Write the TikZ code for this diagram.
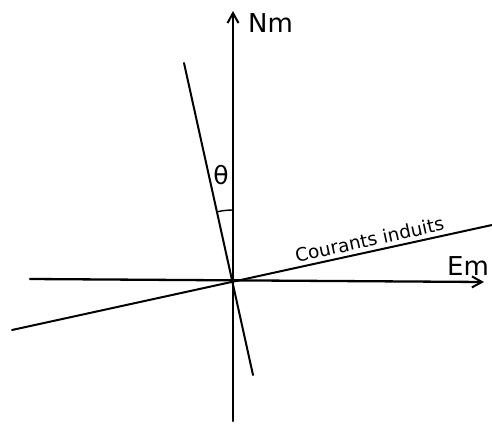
\documentclass[tikz,border=0pt]{standalone}
\usepackage{fontspec}
\setmainfont{DejaVu Sans}
\usetikzlibrary{arrows.meta}
\begin{document}
\begin{tikzpicture}[x=1pt,y=-1pt,
  axisline/.style={line width=2.3pt, line cap=round},
  thinline/.style={line width=2pt, line cap=round},
  arrowed/.style={-{Straight Barb[length=10pt,width=11pt,line width=2pt]}},
  biglabel/.style={font=\fontsize{26}{28}\selectfont, inner sep=0pt},
  smalllabel/.style={font=\fontsize{18.5}{20}\selectfont, inner sep=1pt}]
\useasboundingbox (0,0) rectangle (492,425);
\coordinate (O) at (233,281);
\coordinate (ntop) at (233,11);
\coordinate (nbot) at (233,421);
\coordinate (eleft) at (30,279);
\coordinate (eright) at (484,282);
\coordinate (ttop) at (184,63);
\coordinate (tbot) at (253,375);
\coordinate (cleft) at (12,330);
\coordinate (cright) at (492,225);
\coordinate (arcstart) at (233,210);
% axes
\draw[axisline, arrowed] (nbot) -- (ntop);
\draw[axisline, arrowed] (eleft) -- (eright);
% tilted line
\draw[thinline] (ttop) -- (tbot);
% induced currents line
\draw[thinline] (cleft) -- (cright)
  node[pos=0.75, sloped, above, smalllabel, yshift=3pt] (cl) {Courants induits};
% angle arc
\draw[line width=1.4pt] (arcstart) arc[start angle=-90, end angle=-102.5, radius=71];
% labels
\node[biglabel, anchor=base west] (nm) at (248,33) {Nm};
\node[biglabel, anchor=base west] (em) at (447,275) {Em};
\node[font=\fontsize{25}{27}\selectfont, inner sep=0pt] (th) at (221,175) {θ};
\end{tikzpicture}
\end{document}
